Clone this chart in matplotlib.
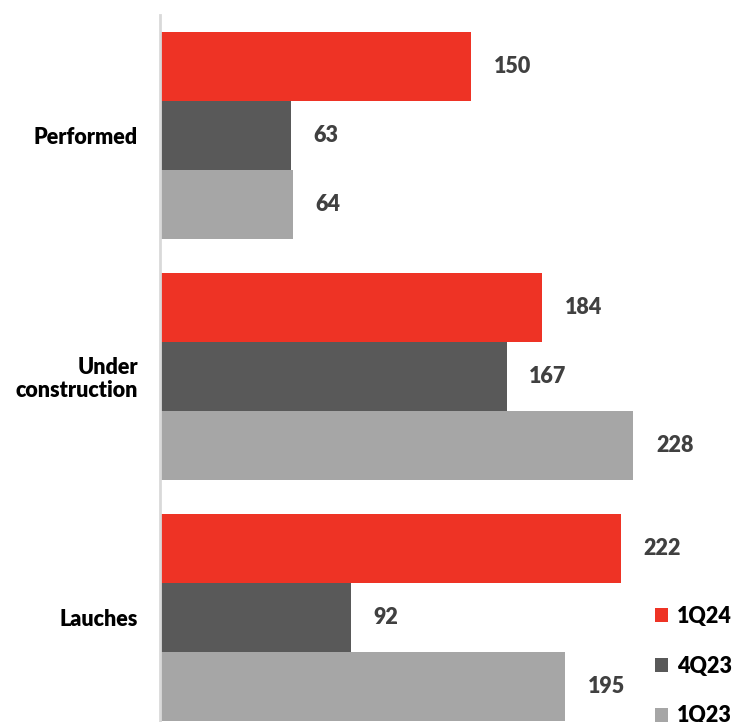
import matplotlib
matplotlib.use("Agg")
import matplotlib.pyplot as plt
import numpy as np

categories = ["Performed", "Under\nconstruction", "Lauches"]
series_names = ["1Q24", "4Q23", "1Q23"]
values_1q24 = [150, 184, 222]
values_4q23 = [63, 167, 92]
values_1q23 = [64, 228, 195]
colors = ["#EE3325", "#595959", "#A6A6A6"]

plt.rcParams['font.family'] = ['Lato', 'DejaVu Sans']

W, H = 733, 722
fig = plt.figure(figsize=(W / 100, H / 100), dpi=100)

# axes geometry in pixels
left_px, top_px = 160, 15
px_per_unit_x = 2.075
group_px = 241.0
xmax = 250
ax_w = xmax * px_per_unit_x
ax_h = 3 * group_px
bottom_px = top_px + ax_h
ax = fig.add_axes([left_px / W, (H - bottom_px) / H, ax_w / W, ax_h / H])

y = np.arange(len(categories))
bar_h = 0.285
all_vals = [values_1q24, values_4q23, values_1q23]
for i, (vals, name, c) in enumerate(zip(all_vals, series_names, colors)):
    pos = y + (i - 1) * bar_h
    bars = ax.barh(pos, vals, height=bar_h, color=c, label=name, edgecolor='none')
    for b, v in zip(bars, vals):
        ax.text(b.get_width() + 11.0, b.get_y() + b.get_height() / 2, str(v),
                ha='left', va='center', fontsize=15.5, fontweight='heavy', color='#404040')

ax.set_xlim(0, xmax)
ax.set_ylim(2.5, -0.5)
ax.set_yticks(y)
ax.set_yticklabels(categories, fontsize=15.5, fontweight='heavy', color='black',
                   linespacing=1.1)
ax.tick_params(axis='y', length=0, pad=16)
ax.set_xticks([])
for s in ['top', 'right', 'bottom']:
    ax.spines[s].set_visible(False)
ax.spines['left'].set_color('#D9D9D9')
ax.spines['left'].set_linewidth(2)

leg = fig.legend(loc='upper left', bbox_to_anchor=(655 / W, (H - 606) / H),
                 frameon=False, prop={'weight': 'heavy', 'size': 15.5},
                 handlelength=0.62, handleheight=0.62, handletextpad=0.4,
                 labelspacing=1.33, borderaxespad=0, borderpad=0)

fig.savefig("out.png", dpi=100)
